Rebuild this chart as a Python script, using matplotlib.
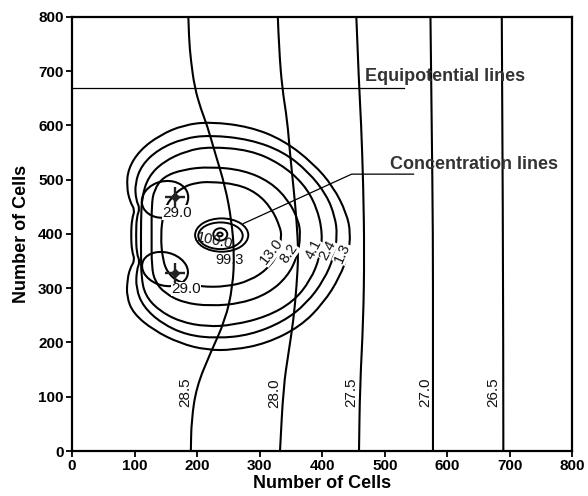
import matplotlib.pyplot as plt
from matplotlib.patches import Ellipse, PathPatch
from matplotlib.path import Path

plt.rcParams['font.family'] = ['Liberation Sans', 'DejaVu Sans']

# equipotential lines (x, y along each line)
eq_labels = ['28.5', '28.0', '27.5', '27.0', '26.5']
eq_285_x = [186, 187, 190, 196, 206, 216, 229, 245, 255, 259.5, 257, 245, 221, 199, 191, 190]
eq_285_y = [800, 760, 720, 670, 630, 600, 548, 487, 425, 364, 303, 241, 180, 118, 57, 0]
eq_280_x = [329, 331, 336, 344, 348.5, 354, 359, 362, 359, 354, 346, 338, 332.5]
eq_280_y = [800, 740, 668, 610, 548, 487, 425, 364, 303, 241, 180, 118, 0]
eq_275_x = [454.5, 459, 462, 465.7, 467.3, 465.7, 460.3, 458.8]
eq_275_y = [800, 668, 610, 487, 364, 241, 118.5, 0]
eq_270_x = [573, 575, 577, 577, 577]
eq_270_y = [800, 600, 400, 200, 0]
eq_265_x = [687, 689, 689.5]
eq_265_y = [800, 400, 0]
eq_lab_x = [180.6, 322.9, 447, 564.3, 673.5]
eq_lab_y = [109, 106, 109, 109, 109]

# concentration contours (closed)
c13_x = [220.6, 284.5, 337.8, 385.8, 417.7, 439.0, 445.4, 441.7, 428.4, 401.7, 364.4, 311.2, 257.9,
         215.3, 172.6, 130, 98, 87.4, 88.5, 92.7, 100.7, 95.9, 94.3, 95.9, 100.7, 92.7, 87.4, 90,
         108.7, 140.7, 178]
c13_y = [606.5, 597.3, 572.8, 529.8, 486.8, 437.7, 400.9, 364.0, 321.1, 272, 229, 198.3, 186,
         186, 198.3, 222.8, 253.5, 284.2, 314.9, 336.4, 351.8, 367.1, 397.8, 428.5, 443.9, 459.2,
         486.8, 520.6, 554.4, 582, 600.4]
c24_x = [220.6, 284.5, 337.8, 377.8, 407.1, 420.4, 424.1, 418.8, 402.8, 375.1, 337.8, 284.5, 231.2,
         183.3, 143.3, 114, 102.3, 103.4, 108.7, 103.4, 102.3, 103.4, 108.7, 102.3, 100.7, 111.4,
         138, 178]
c24_y = [582, 574, 551.3, 514.4, 471.5, 431.6, 397.8, 357.9, 314.9, 272, 238.2, 213.6, 207.5,
         213.6, 235.1, 265.8, 299.6, 333.3, 348.7, 364.0, 397.8, 431.6, 446.9, 462.3, 493, 526.7,
         555.6, 575.8]
c41_x = [220.6, 284.5, 332.5, 369.8, 391.1, 400.7, 396.4, 381.5, 353.8, 311.2, 257.9, 215.3, 172.6,
         138, 116.7, 110.8, 110.3, 110.3, 111.9, 122, 146, 183.3]
c41_y = [560.5, 554.4, 529.8, 493, 450, 400.9, 357.9, 314.9, 275, 247.4, 232, 229, 238.2,
         259.7, 287.3, 321.1, 364, 425.4, 468.4, 505.2, 532.9, 553.1]
c82_x = [220.6, 273.9, 316.5, 345.8, 361.8, 365.5, 360.2, 344.2, 313.8, 271.2, 220.6, 178, 148.7,
         132.7, 127.3, 127.3, 127.3, 131.1, 146, 178]
c82_y = [523.7, 517.5, 496.1, 462.3, 425.4, 397.8, 357.9, 321.1, 290.4, 272, 267, 273.2, 290.4,
         311.9, 339.5, 397.8, 453.1, 480.7, 505.2, 518.7]
c130_x = [220.6, 263.2, 295.2, 319.1, 332.5, 335.1, 329.8, 313.8, 284.5, 247.2, 204.6, 172.6, 154,
          144.9, 141.7, 146, 156.6, 178, 199.3]
c130_y = [496.0, 491.7, 475.8, 446.9, 413.1, 394.7, 364.0, 336.4, 313.7, 302.6, 302.6, 310, 326,
          351.8, 397.8, 437.7, 465.3, 486.8, 494.2]
conc_labels = ['13.0', '8.2', '4.1', '2.4', '1.3']
conc_lab_x = [319, 347, 386, 408, 432]
conc_lab_y = [367, 364, 371, 370, 364]
conc_lab_rot = [52, 55, 63, 62, 66]

# wells and the rings around them
well_x = [164.6, 164.6]
well_y = [468.3, 327.3]
ring29_x = [148.7, 148.7]
ring29_y = [463.5, 335.2]
ring29_w = [76, 76]
ring29_h = [66, 60]
ring29_ang = [25, -25]
lab29_x = [168.3, 182.2]
lab29_y = [438.9, 298.3]

# source rings at the centre
src_x = [239.3, 237.4, 237.1, 236.6]
src_y = [397.8, 396.5, 399, 399]
src_w = [85, 71, 22.4, 8.5]
src_h = [61.4, 49.1, 22.7, 6.8]


def smooth_line(xs, ys, closed):
    # read points used as quadratic bezier control points
    pts = list(zip(xs, ys))
    n = len(pts)
    if closed:
        mids = [((pts[i][0] + pts[(i + 1) % n][0]) / 2, (pts[i][1] + pts[(i + 1) % n][1]) / 2)
                for i in range(n)]
        verts = [mids[-1]]
        codes = [Path.MOVETO]
        for i in range(n):
            verts += [pts[i], mids[i]]
            codes += [Path.CURVE3, Path.CURVE3]
    else:
        verts = [pts[0]]
        codes = [Path.MOVETO]
        for i in range(1, n - 1):
            mid = ((pts[i][0] + pts[i + 1][0]) / 2, (pts[i][1] + pts[i + 1][1]) / 2)
            verts += [pts[i], mid]
            codes += [Path.CURVE3, Path.CURVE3]
        verts.append(pts[-1])
        codes.append(Path.LINETO)
    return PathPatch(Path(verts, codes), fill=False, edgecolor='black', lw=1.5,
                     joinstyle='round', capstyle='butt')


fig = plt.figure(figsize=(5.88, 4.96), dpi=100)
ax = fig.add_axes([0.1224, 0.0907, 0.8512, 0.8756])

eq_lines = [(eq_285_x, eq_285_y), (eq_280_x, eq_280_y), (eq_275_x, eq_275_y),
            (eq_270_x, eq_270_y), (eq_265_x, eq_265_y)]
for (xs, ys) in eq_lines:
    ax.add_patch(smooth_line(xs, ys, False))
for i in range(len(eq_labels)):
    ax.text(eq_lab_x[i], eq_lab_y[i], eq_labels[i], rotation=90, ha='center', va='center',
            fontsize=11, color='#111111')

for (xs, ys) in [(c13_x, c13_y), (c24_x, c24_y), (c41_x, c41_y), (c82_x, c82_y), (c130_x, c130_y)]:
    ax.add_patch(smooth_line(xs, ys, True))
for i in range(len(conc_labels)):
    ax.text(conc_lab_x[i], conc_lab_y[i], conc_labels[i], rotation=conc_lab_rot[i],
            ha='center', va='center', fontsize=10.5, color='#111111', zorder=4,
            bbox=dict(facecolor='white', edgecolor='none', pad=0.3))

for i in range(2):
    ax.add_patch(Ellipse((ring29_x[i], ring29_y[i]), ring29_w[i], ring29_h[i], angle=ring29_ang[i],
                         fill=False, color='black', lw=1.5))
    ax.text(lab29_x[i], lab29_y[i], '29.0', ha='center', va='center', fontsize=11, color='#111111',
            zorder=4, bbox=dict(facecolor='white', edgecolor='none', pad=0.2))
ax.plot(well_x, well_y, marker='+', ls='none', color='#222222', ms=14, mew=1.7, zorder=5)
ax.plot(well_x, well_y, marker='D', ls='none', color='#222222', ms=4.5, zorder=5)

for i in range(len(src_x)):
    ax.add_patch(Ellipse((src_x[i], src_y[i]), src_w[i], src_h[i], fill=False, color='black', lw=1.4))
ax.text(228.6, 387.3, '100.0', rotation=-12, ha='center', va='center', fontsize=10.5, color='#111111')
ax.text(252.6, 351.7, '99.3', ha='center', va='center', fontsize=10.5, color='#111111')

# pointers
ax.plot([0, 530], [668, 668], color='black', lw=0.9)
ax.text(469, 689, 'Equipotential lines', fontsize=13, fontweight='bold', color='#333333',
        ha='left', va='center')
ax.plot([274, 447, 546], [419, 510, 510], color='black', lw=0.9)
ax.text(508, 527, 'Concentration lines', fontsize=13, fontweight='bold', color='#333333',
        ha='left', va='center')

ax.set_xlim(0, 800)
ax.set_ylim(0, 800)
ax.set_xticks(range(0, 801, 100))
ax.set_yticks(range(0, 801, 100))
ax.tick_params(direction='out', length=4, width=1.3, labelsize=11, pad=2)
for lab in ax.get_xticklabels() + ax.get_yticklabels():
    lab.set_fontweight('bold')
for sp in ax.spines.values():
    sp.set_linewidth(1.6)
ax.set_xlabel('Number of Cells', fontsize=13, fontweight='bold', labelpad=1)
ax.set_ylabel('Number of Cells', fontsize=13, fontweight='bold', labelpad=6)

fig.savefig('out.png', dpi=100)
